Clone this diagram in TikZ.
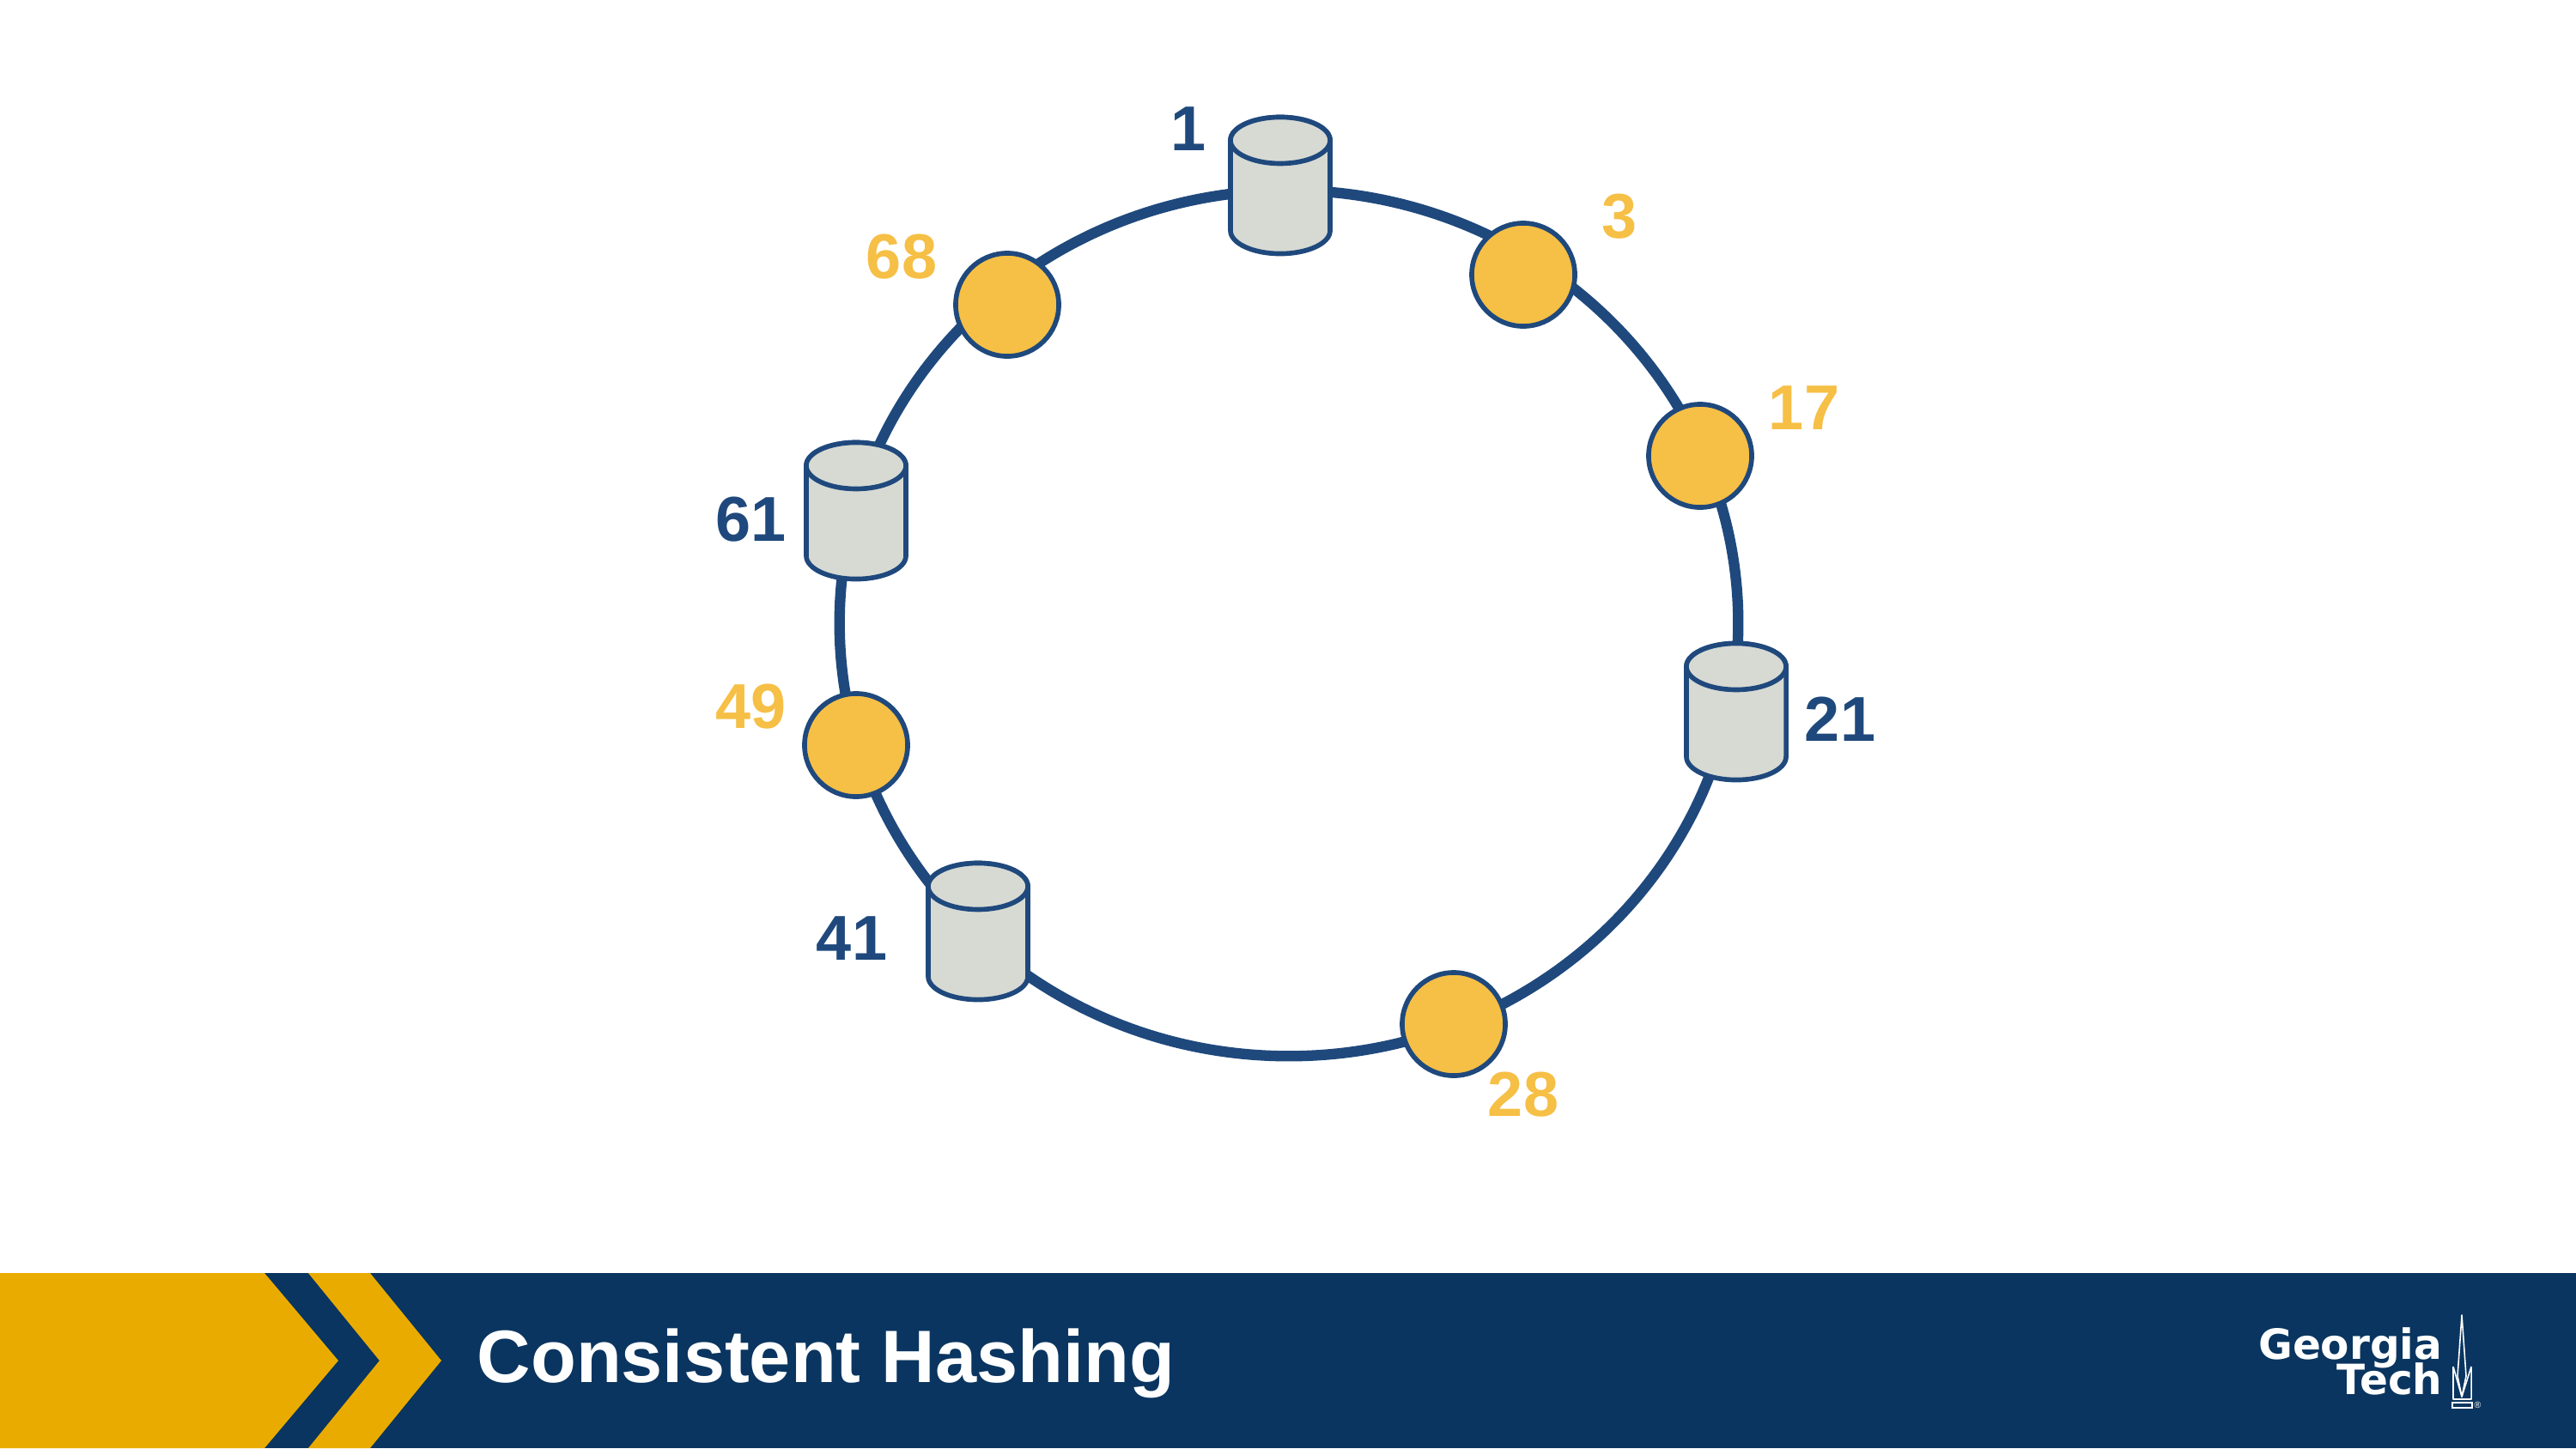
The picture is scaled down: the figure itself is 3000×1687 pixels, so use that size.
\documentclass[tikz,border=0pt]{standalone}
\usepackage{fontspec}
\setmainfont{Liberation Sans}
\newfontfamily\logofont{DejaVu Sans}
\usetikzlibrary{shapes.geometric,positioning}
\definecolor{ringblue}{HTML}{1F497D}
\definecolor{keygold}{HTML}{F6BF45}
\definecolor{drumgrey}{HTML}{D7DAD3}
\definecolor{bannernavy}{HTML}{0A3560}
\definecolor{bannergold}{HTML}{EAAB00}
\newcommand{\servernode}[2]{%
  \node[server] (#1) at #2 {};
  \draw[drum] ([yshift=-0.27cm]#1.north west)
      arc[start angle=180, end angle=0, x radius=0.58cm, y radius=0.27cm]
      -- ([yshift=0.27cm]#1.south east)
      arc[start angle=0, end angle=-180, x radius=0.58cm, y radius=0.27cm] -- cycle;
  \draw[drum] ([yshift=-0.27cm]#1.north)
      ellipse[x radius=0.58cm, y radius=0.27cm];
}

\begin{document}
\begin{tikzpicture}[
  x=0.01cm, y=-0.01cm,
  ring/.style={
    ellipse, draw=ringblue, line width=3.5pt, inner sep=0pt,
    minimum width=10.46cm, minimum height=10.08cm},
  keynode/.style={
    circle, draw=ringblue, fill=keygold, line width=1.6pt,
    inner sep=0pt, minimum size=1.2cm},
  server/.style={
    rectangle, inner sep=0pt, outer sep=0pt,
    minimum width=1.16cm, minimum height=1.59cm},
  drum/.style={draw=ringblue, fill=drumgrey, line width=1.6pt, line join=round},
  serverlab/.style={text=ringblue, font=\fontsize{21}{21}\selectfont\bfseries, inner sep=0pt},
  keylab/.style={text=keygold, font=\fontsize{21}{21}\selectfont\bfseries, inner sep=0pt},
]
  \useasboundingbox (0,0) rectangle (3000,1687);

  % ── Ring ────────────────────────────────────────────────────────────────
  \node[ring] (hashring) at (1501,726) {};

  % ── Servers ─────────────────────────────────────────────────────────────
  \servernode{srv1}{(1491,216)}
  \servernode{srv21}{(2022,829)}
  \servernode{srv41}{(1139,1085)}
  \servernode{srv61}{(997,595)}

  % ── Keys ────────────────────────────────────────────────────────────────
  \node[keynode] (key3)  at (1774,320) {};
  \node[keynode] (key17) at (1980,531) {};
  \node[keynode] (key28) at (1693,1193) {};
  \node[keynode] (key49) at (997,868) {};
  \node[keynode] (key68) at (1173,355) {};

  % ── Labels ──────────────────────────────────────────────────────────────
  \node[serverlab] (lab1)  at (1384,150) {1};
  \node[serverlab] (lab21) at (2143,838) {21};
  \node[serverlab] (lab41) at (992,1093) {41};
  \node[serverlab] (lab61) at (875,605) {61};
  \node[keylab] (lab3)  at (1886,252) {3};
  \node[keylab] (lab17) at (2101,475) {17};
  \node[keylab] (lab28) at (1774,1275) {28};
  \node[keylab] (lab49) at (875,823) {49};
  \node[keylab] (lab68) at (1050,299) {68};

  % ── Banner ──────────────────────────────────────────────────────────────
  \fill[bannernavy] (0,1483) rectangle (3000,1687);
  \fill[bannergold] (0,1483) -- (308,1483) -- (394,1585) -- (308,1687) -- (0,1687) -- cycle;
  \fill[bannergold] (359,1483) -- (431,1483) -- (514,1585) -- (431,1687) -- (359,1687)
      -- (442,1585) -- cycle;
  \node[anchor=base west, inner sep=0pt, text=white,
        font=\fontsize{24.6}{24.6}\selectfont\bfseries] (title) at (555,1610)
      {Consistent Hashing};

  % ── Logo ────────────────────────────────────────────────────────────────
  \node[anchor=base east, inner sep=0pt, text=white,
        font=\logofont\fontsize{13.8}{13.8}\selectfont\bfseries] (logoa) at (2845,1583) {Georgia};
  \node[anchor=base east, inner sep=0pt, text=white,
        font=\logofont\fontsize{13.8}{13.8}\selectfont\bfseries] (logob) at (2845,1624) {Tech};
  \draw[white, line width=0.45pt, line join=round]
      (2867,1532) -- (2862,1603) -- (2867,1627) -- (2872,1603) -- cycle;
  \draw[white, line width=0.45pt, line join=round]
      (2857,1592) -- (2857,1630) -- (2878,1630) -- (2878,1592)
      (2857,1592) -- (2867,1627) -- (2878,1592);
  \draw[white, line width=0.5pt] (2856,1634) rectangle (2879,1640);
  \node[anchor=west, inner sep=0pt, text=white, font=\fontsize{3}{3}\selectfont] (logoc) at (2881,1637) {®};
\end{tikzpicture}
\end{document}
